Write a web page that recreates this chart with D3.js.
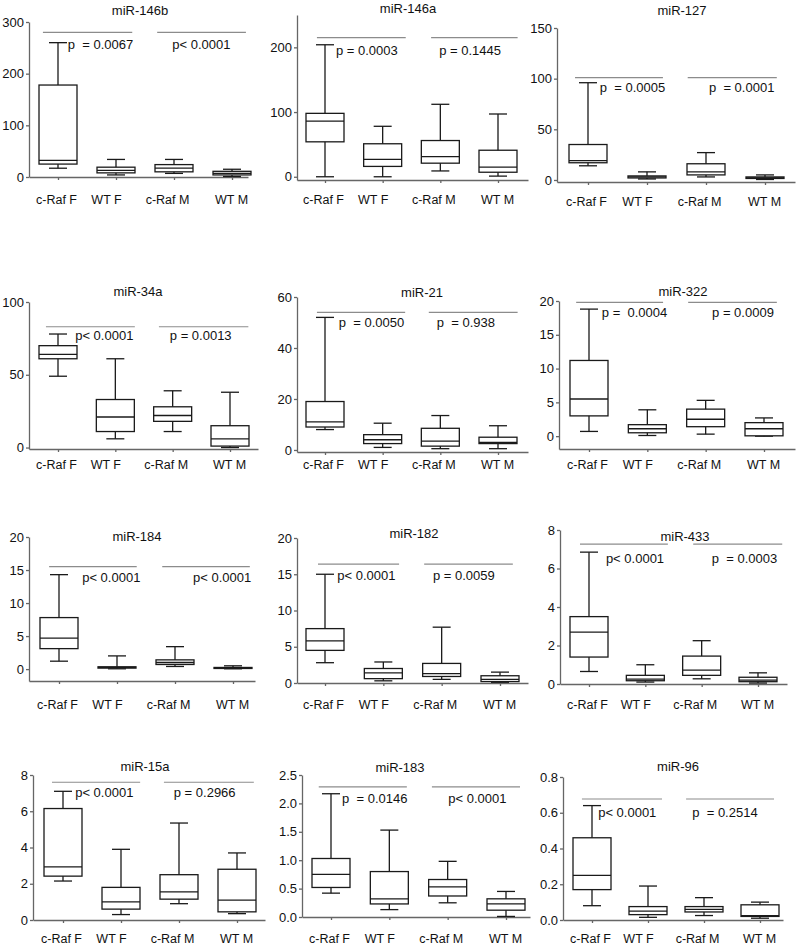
<!DOCTYPE html>
<html>
<head>
<meta charset="utf-8">
<script src="https://cdn.jsdelivr.net/npm/d3@7"></script>
<style>
  body { margin: 0; background: #fff; }
  svg { display: block; font-family: Arial, "Liberation Sans", sans-serif; }
  .axis path, .axis line { stroke: #666; stroke-width: 1.3; }
  .axis text { fill: #111; }
  .box { fill: #fff; stroke: #1a1a1a; stroke-width: 1.3; }
  .whisker, .median { stroke: #1a1a1a; stroke-width: 1.3; }
  .sig { stroke: #8c8c8c; stroke-width: 1.2; }
  .title, .pval { font-size: 13px; fill: #111; }
</style>
</head>
<body>
<script>
var groups = ["c-Raf F", "WT F", "c-Raf M", "WT M"];

// each row: [min, q1, median, q3, max]
var miR146b = [[17, 25, 32, 178, 260], [4, 8, 13, 19, 34], [7, 10, 17, 24, 34], [1, 4, 7, 11, 15]];
var miR146a = [[0, 54, 86, 98, 204], [0, 16, 27, 51, 78], [9, 21, 31, 56, 112], [1, 7, 15, 41, 97]];
var miR127 = [[14, 17, 19, 35, 96], [1, 2, 3, 4, 8], [3, 5, 8, 16, 27], [0.5, 1.5, 2, 3, 5]];
var miR34a = [[49, 61, 64, 70, 78], [6, 11, 21, 33, 61], [11, 18, 22, 28, 39], [0, 1, 6, 15, 38]];
var miR21 = [[8, 9, 11, 19, 52], [1, 2.5, 4, 6, 10.5], [0.5, 1.5, 3.5, 8.5, 13.5], [0.5, 2.5, 3, 5, 9.5]];
var miR322 = [[0.7, 3, 5.5, 11.2, 18.8], [0.1, 0.5, 1.1, 1.7, 3.9], [0.3, 1.4, 2.5, 4, 5.3], [0, 0.05, 1.1, 2, 2.7]];
var miR184 = [[1.2, 3.1, 4.7, 7.8, 14.3], [0.05, 0.15, 0.25, 0.35, 2], [0.4, 0.7, 1.0, 1.4, 3.4], [0.05, 0.1, 0.2, 0.25, 0.5]];
var miR182 = [[2.8, 4.5, 5.8, 7.5, 15], [0.3, 0.6, 1.4, 2, 2.9], [0.5, 0.9, 1.3, 2.7, 7.7], [0.1, 0.2, 0.5, 1, 1.5]];
var miR433 = [[0.65, 1.4, 2.7, 3.5, 6.85], [0.1, 0.17, 0.25, 0.45, 1.0], [0.27, 0.45, 0.72, 1.45, 2.25], [0.05, 0.12, 0.2, 0.35, 0.58]];
var miR15a = [[2.15, 2.42, 2.93, 6.15, 7.1], [0.3, 0.6, 1.0, 1.8, 3.9], [0.9, 1.15, 1.55, 2.5, 5.35], [0.35, 0.45, 1.1, 2.8, 3.7]];
var miR183 = [[0.42, 0.52, 0.75, 1.03, 2.17], [0.13, 0.23, 0.32, 0.8, 1.53], [0.25, 0.37, 0.53, 0.66, 0.98], [0.01, 0.12, 0.23, 0.32, 0.45]];
var miR96 = [[0.08, 0.17, 0.25, 0.46, 0.64], [0.015, 0.03, 0.05, 0.075, 0.19], [0.025, 0.045, 0.06, 0.075, 0.125], [0.01, 0.02, 0.025, 0.085, 0.1]];

var titles = ["miR-146b", "miR-146a", "miR-127", "miR-34a", "miR-21", "miR-322",
              "miR-184", "miR-182", "miR-433", "miR-15a", "miR-183", "miR-96"];
var series = [miR146b, miR146a, miR127, miR34a, miR21, miR322,
              miR184, miR182, miR433, miR15a, miR183, miR96];

var pValues = [
  ["p  = 0.0067", "p< 0.0001"], ["p = 0.0003", "p = 0.1445"], ["p  = 0.0005", "p  = 0.0001"],
  ["p< 0.0001", "p = 0.0013"], ["p  = 0.0050", "p  = 0.938"], ["p =  0.0004", "p = 0.0009"],
  ["p< 0.0001", "p< 0.0001"], ["p< 0.0001", "p = 0.0059"], ["p< 0.0001", "p  = 0.0003"],
  ["p< 0.0001", "p = 0.2966"], ["p  = 0.0146", "p< 0.0001"], ["p< 0.0001", "p  = 0.2514"]
];
// height of the comparison bars, in data units
var sigLevels = [280, 215, 101, 83, 54, 19.8, 15.5, 16.4, 7.27, 7.6, 2.29, 0.677];

var yTicks = [
  [0, 100, 200, 300], [0, 100, 200], [0, 50, 100, 150],
  [0, 50, 100], [0, 20, 40, 60], [0, 5, 10, 15, 20],
  [0, 5, 10, 15, 20], [0, 5, 10, 15, 20], [0, 2, 4, 6, 8],
  [0, 2, 4, 6, 8], [0, 0.5, 1.0, 1.5, 2.0, 2.5], [0, 0.2, 0.4, 0.6, 0.8]
];
var yDomains = [
  [0, 300], [-5, 250], [-2, 150],
  [-1, 100], [-0.8, 60], [-1.9, 20],
  [-1.8, 20], [0, 20], [0, 8],
  [0, 8], [0, 2.5], [0, 0.8]
];

// layout: y axis x, x axis end, first/last box centre, axis bottom/top px, title, label centre
var layout = [
  {ax: 29, xEnd: 248, c0: 58, c3: 232, yBot: 177, yTop: 22, tx: 140, ty: 15, ly: 200, pd: 17, sig: [[-0.26, 1.28], [1.71, 3.24]], px: [0.17, 1.97]},
  {ax: 297, xEnd: 528, c0: 325, c3: 498, yBot: 180, yTop: 15, tx: 408, ty: 13, ly: 200, pd: 17, sig: [[-0.14, 1.40], [1.84, 3.34]], px: [0.19, 1.98]},
  {ax: 557, xEnd: 795, c0: 588, c3: 765, yBot: 182, yTop: 28, tx: 682, ty: 15, ly: 202, pd: 14, sig: [[-0.22, 1.27], [1.69, 3.2]], px: [0.20, 2.05]},
  {ax: 29, xEnd: 258, c0: 58, c3: 230, yBot: 449, yTop: 302, tx: 138, ty: 296, ly: 465, pd: 13, sig: [[-0.21, 1.34], [1.76, 3.32]], px: [0.30, 1.95]},
  {ax: 297, xEnd: 528, c0: 325, c3: 498, yBot: 452, yTop: 297, tx: 422, ty: 297, ly: 465, pd: 15, sig: [[-0.14, 1.39], [1.80, 3.34]], px: [0.24, 1.94]},
  {ax: 559, xEnd: 795, c0: 589, c3: 764, yBot: 449, yTop: 301, tx: 683, ty: 296, ly: 465, pd: 15, sig: [[-0.22, 1.27], [1.70, 3.22]], px: [0.22, 2.11]},
  {ax: 29, xEnd: 255, c0: 59, c3: 233, yBot: 681, yTop: 537, tx: 137, ty: 541, ly: 705, pd: 15, sig: [[-0.17, 1.34], [1.78, 3.29]], px: [0.40, 2.31]},
  {ax: 297, xEnd: 528, c0: 325, c3: 500, yBot: 683, yTop: 538, tx: 414, ty: 538, ly: 705, pd: 16, sig: [[-0.12, 1.27], [1.70, 3.22]], px: [0.21, 1.85]},
  {ax: 560, xEnd: 787, c0: 589, c3: 758, yBot: 684, yTop: 530, tx: 685, ty: 541, ly: 705, pd: 19, sig: [[-0.16, 1.40], [1.85, 3.43]], px: [0.30, 2.18]},
  {ax: 33, xEnd: 265, c0: 63, c3: 237, yBot: 920, yTop: 775, tx: 145, ty: 771, ly: 939, pd: 15, sig: [[-0.19, 1.33], [1.74, 3.29]], px: [0.21, 1.91]},
  {ax: 302, xEnd: 530, c0: 331, c3: 506, yBot: 917, yTop: 775, tx: 400, ty: 772, ly: 939, pd: 16, sig: [[-0.21, 1.30], [1.73, 3.24]], px: [0.19, 2.01]},
  {ax: 563, xEnd: 783, c0: 592, c3: 760, yBot: 920, yTop: 777, tx: 678, ty: 771, ly: 939, pd: 18, sig: [[-0.18, 1.25], [1.68, 3.25]], px: [0.11, 1.79]}
];
var labelDx = [-2, -10, -7, -1];
var boxW = 38, capW = 18;

var svg = d3.select("body").append("svg")
    .attr("width", 800)
    .attr("height", 946);

series.forEach(function(data, k) {
    var L = layout[k];
    var sp = (L.c3 - L.c0) / 3;
    var x = d3.scaleLinear()
        .domain([(L.ax - L.c0) / sp, (L.xEnd - L.c0) / sp])
        .range([L.ax, L.xEnd]);
    var y = d3.scaleLinear().domain(yDomains[k]).range([L.yBot, L.yTop]);
    var fmt = yTicks[k].some(function(t) { return t % 1 != 0; }) ? d3.format(".1f") : d3.format("d");

    var g = svg.append("g");

    g.append("g")
        .attr("class", "axis")
        .attr("transform", "translate(" + L.ax + ",0)")
        .call(d3.axisLeft(y).tickValues(yTicks[k]).tickSize(3).tickSizeOuter(0).tickPadding(2).tickFormat(fmt))
        .attr("font-size", 13)
        .attr("font-family", null);

    var xa = g.append("g")
        .attr("class", "axis")
        .attr("transform", "translate(0," + L.yBot + ")")
        .call(d3.axisBottom(x).tickValues([0, 1, 2, 3]).tickSize(3).tickSizeOuter(0)
            .tickPadding(L.ly - L.yBot - 3 - 4.5)
            .tickFormat(function(i) { return groups[i]; }))
        .attr("font-size", 12.5)
        .attr("font-family", null);
    xa.selectAll(".tick text").attr("dx", function(d) { return labelDx[d]; });

    g.append("text")
        .attr("class", "title")
        .attr("x", L.tx)
        .attr("y", L.ty)
        .attr("text-anchor", "middle")
        .text(titles[k]);

    // comparison bars and p values
    L.sig.forEach(function(s, j) {
        g.append("line")
            .attr("class", "sig")
            .attr("x1", x(s[0])).attr("x2", x(s[1]))
            .attr("y1", y(sigLevels[k])).attr("y2", y(sigLevels[k]));
        g.append("text")
            .attr("class", "pval")
            .attr("xml:space", "preserve")
            .style("white-space", "pre")
            .attr("x", x(L.px[j]))
            .attr("y", y(sigLevels[k]) + L.pd)
            .text(pValues[k][j]);
    });

    var box = g.selectAll(".grp")
        .data(data)
      .enter().append("g")
        .attr("class", "grp");

    box.append("line").attr("class", "whisker")
        .attr("x1", (d, i) => x(i)).attr("x2", (d, i) => x(i))
        .attr("y1", d => y(d[0])).attr("y2", d => y(d[4]));
    box.append("line").attr("class", "whisker")
        .attr("x1", (d, i) => x(i) - capW / 2).attr("x2", (d, i) => x(i) + capW / 2)
        .attr("y1", d => y(d[0])).attr("y2", d => y(d[0]));
    box.append("line").attr("class", "whisker")
        .attr("x1", (d, i) => x(i) - capW / 2).attr("x2", (d, i) => x(i) + capW / 2)
        .attr("y1", d => y(d[4])).attr("y2", d => y(d[4]));
    box.append("rect").attr("class", "box")
        .attr("x", (d, i) => x(i) - boxW / 2)
        .attr("y", d => y(d[3]))
        .attr("width", boxW)
        .attr("height", d => Math.max(1, y(d[1]) - y(d[3])));
    box.append("line").attr("class", "median")
        .attr("x1", (d, i) => x(i) - boxW / 2).attr("x2", (d, i) => x(i) + boxW / 2)
        .attr("y1", d => y(d[2])).attr("y2", d => y(d[2]));
});
</script>
</body>
</html>
